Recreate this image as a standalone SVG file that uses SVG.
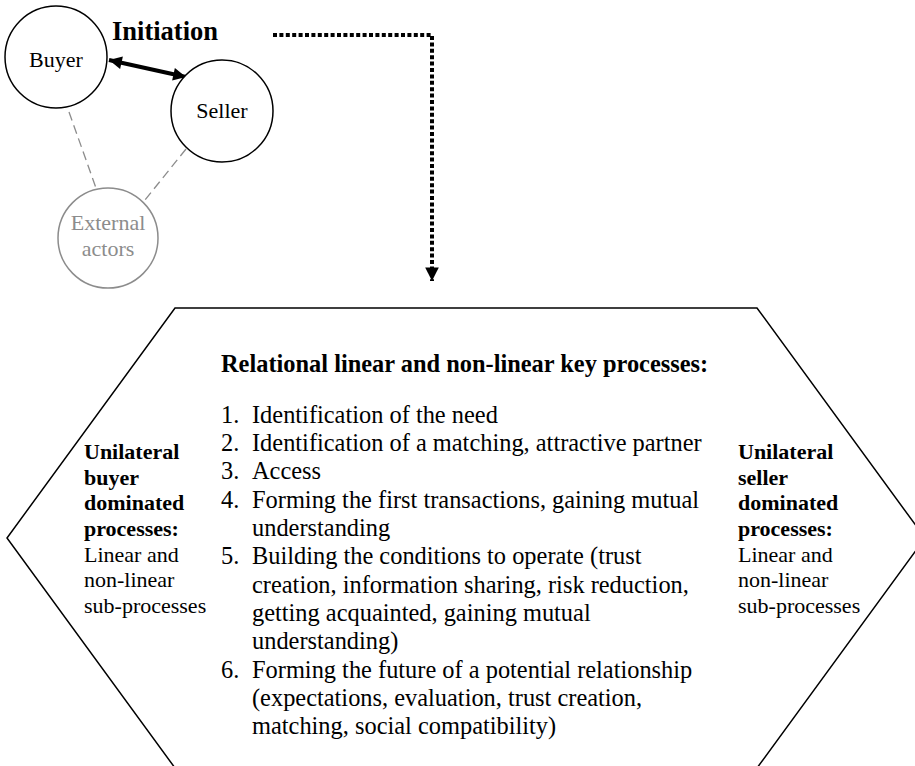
<svg xmlns="http://www.w3.org/2000/svg" width="915" height="766" viewBox="0 0 915 766">
  <defs>
    <marker id="head" viewBox="0 0 10 10" refX="10" refY="5" markerWidth="3.4" markerHeight="3.2" orient="auto-start-reverse" markerUnits="strokeWidth">
      <path d="M0,0 L10,5 L0,10 Z" fill="#000"/>
    </marker>
    <marker id="down" viewBox="0 0 10 10" refX="10" refY="5" markerWidth="3.4" markerHeight="3.4" orient="auto" markerUnits="strokeWidth">
      <path d="M0,0 L10,5 L0,10 Z" fill="#000"/>
    </marker>
  </defs>

  <!-- connectors -->
  <g id="connectors">
    <g stroke="#8c8c8c" stroke-width="1.3" stroke-dasharray="9 5" fill="none">
      <line x1="69" y1="112" x2="96" y2="188"/>
      <line x1="186" y1="149" x2="145" y2="200"/>
    </g>
    <line x1="109" y1="60" x2="186" y2="77" stroke="#000" stroke-width="4" marker-start="url(#head)" marker-end="url(#head)"/>
    <path d="M273,35 H432 V281" fill="none" stroke="#000" stroke-width="4" stroke-dasharray="4 2.4" marker-end="url(#down)"/>
  </g>

  <g id="buyer">
    <circle cx="56" cy="57" r="51" fill="#fff" stroke="#000" stroke-width="1.5"/>
    <text x="56" y="67" font-family="Times New Roman, serif" font-size="22" text-anchor="middle">Buyer</text>
  </g>
  <g id="seller">
    <circle cx="222" cy="111" r="51" fill="#fff" stroke="#000" stroke-width="1.5"/>
    <text x="222" y="118" font-family="Times New Roman, serif" font-size="22" text-anchor="middle">Seller</text>
  </g>
  <g id="external">
    <circle cx="108" cy="238" r="50" fill="#fff" stroke="#8c8c8c" stroke-width="1.5"/>
    <text x="108" y="230" font-family="Times New Roman, serif" font-size="22" text-anchor="middle" fill="#8c8c8c">External</text>
    <text x="108" y="256" font-family="Times New Roman, serif" font-size="22" text-anchor="middle" fill="#8c8c8c">actors</text>
  </g>

  <g id="initiation">
    <text x="112" y="40" font-family="Times New Roman, serif" font-size="26.5" font-weight="bold">Initiation</text>
  </g>

  <g id="processes">
    <polygon points="175,308 757,308 925,538 757,768 175,768 7,538" fill="#fff" stroke="#000" stroke-width="1.5"/>
    <text x="221" y="372" font-family="Times New Roman, serif" font-size="24.4" font-weight="bold">Relational linear and non-linear key processes:</text>
    <text x="221" y="423" font-family="Times New Roman, serif" font-size="24.4">1.</text>
    <text x="252" y="423" font-family="Times New Roman, serif" font-size="24.4">Identification of the need</text>
    <text x="221" y="451" font-family="Times New Roman, serif" font-size="24.4">2.</text>
    <text x="252" y="451" font-family="Times New Roman, serif" font-size="24.4">Identification of a matching, attractive partner</text>
    <text x="221" y="479" font-family="Times New Roman, serif" font-size="24.4">3.</text>
    <text x="252" y="479" font-family="Times New Roman, serif" font-size="24.4">Access</text>
    <text x="221" y="508" font-family="Times New Roman, serif" font-size="24.4">4.</text>
    <text x="252" y="508" font-family="Times New Roman, serif" font-size="24.4">Forming the first transactions, gaining mutual</text>
    <text x="252" y="536" font-family="Times New Roman, serif" font-size="24.4">understanding</text>
    <text x="221" y="564" font-family="Times New Roman, serif" font-size="24.4">5.</text>
    <text x="252" y="564" font-family="Times New Roman, serif" font-size="24.4">Building the conditions to operate (trust</text>
    <text x="252" y="593" font-family="Times New Roman, serif" font-size="24.4">creation, information sharing, risk reduction,</text>
    <text x="252" y="621" font-family="Times New Roman, serif" font-size="24.4">getting acquainted, gaining mutual</text>
    <text x="252" y="649" font-family="Times New Roman, serif" font-size="24.4">understanding)</text>
    <text x="221" y="678" font-family="Times New Roman, serif" font-size="24.4">6.</text>
    <text x="252" y="678" font-family="Times New Roman, serif" font-size="24.4">Forming the future of a potential relationship</text>
    <text x="252" y="706" font-family="Times New Roman, serif" font-size="24.4">(expectations, evaluation, trust creation,</text>
    <text x="252" y="734" font-family="Times New Roman, serif" font-size="24.4">matching, social compatibility)</text>
  </g>

  <g id="buyer-side">
    <text x="84" y="459" font-family="Times New Roman, serif" font-size="22" font-weight="bold">Unilateral</text>
    <text x="84" y="485" font-family="Times New Roman, serif" font-size="22" font-weight="bold">buyer</text>
    <text x="84" y="510" font-family="Times New Roman, serif" font-size="22" font-weight="bold">dominated</text>
    <text x="84" y="536" font-family="Times New Roman, serif" font-size="22" font-weight="bold">processes:</text>
    <text x="84" y="562" font-family="Times New Roman, serif" font-size="22">Linear and</text>
    <text x="84" y="587" font-family="Times New Roman, serif" font-size="22">non-linear</text>
    <text x="84" y="613" font-family="Times New Roman, serif" font-size="22">sub-processes</text>
  </g>

  <g id="seller-side">
    <text x="738" y="459" font-family="Times New Roman, serif" font-size="22" font-weight="bold">Unilateral</text>
    <text x="738" y="485" font-family="Times New Roman, serif" font-size="22" font-weight="bold">seller</text>
    <text x="738" y="510" font-family="Times New Roman, serif" font-size="22" font-weight="bold">dominated</text>
    <text x="738" y="536" font-family="Times New Roman, serif" font-size="22" font-weight="bold">processes:</text>
    <text x="738" y="562" font-family="Times New Roman, serif" font-size="22">Linear and</text>
    <text x="738" y="587" font-family="Times New Roman, serif" font-size="22">non-linear</text>
    <text x="738" y="613" font-family="Times New Roman, serif" font-size="22">sub-processes</text>
  </g>
</svg>
